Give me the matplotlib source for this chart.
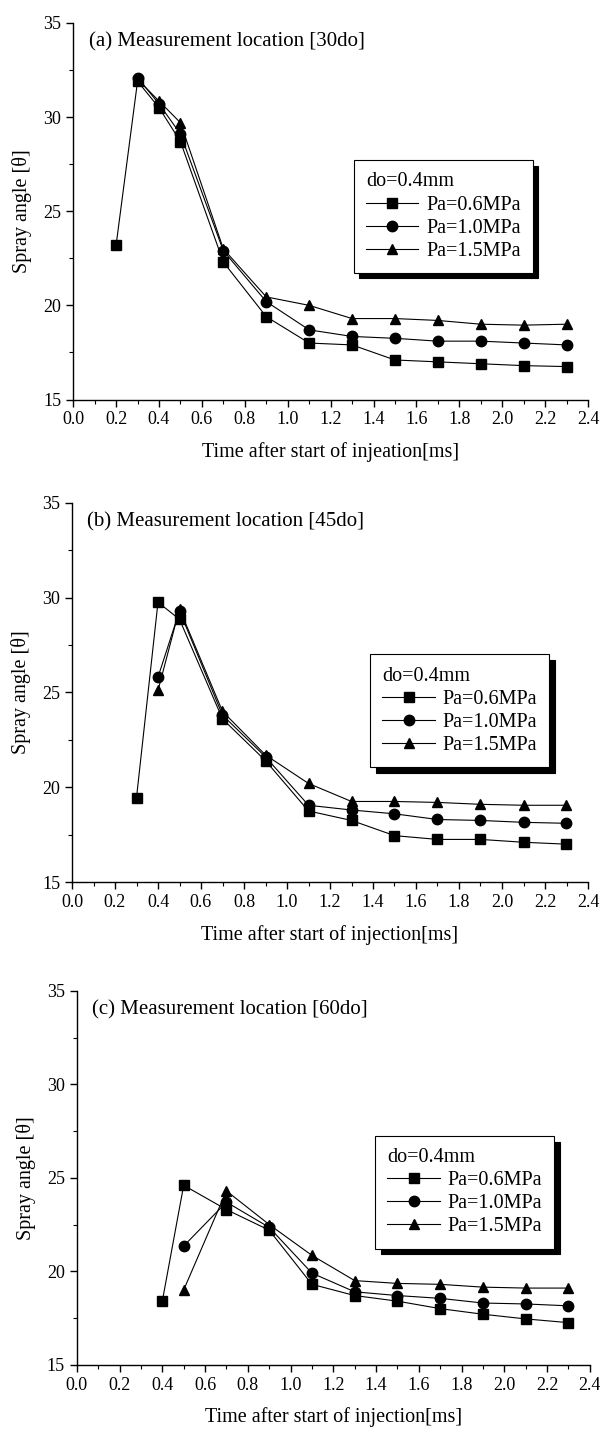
import numpy as np
import matplotlib
matplotlib.use('Agg')
import matplotlib.pyplot as plt
from matplotlib.ticker import MultipleLocator

plt.rcParams.update({
    'font.family': 'Liberation Serif',
    'font.size': 13,
    'axes.linewidth': 1.0,
    'lines.linewidth': 0.8,
    'xtick.direction': 'out',
    'ytick.direction': 'out',
})

# --- data ---
t_a06 = [0.2, 0.3, 0.4, 0.5, 0.7, 0.9, 1.1, 1.3, 1.5, 1.7, 1.9, 2.1, 2.3]
a_06 = [23.2, 31.9, 30.5, 28.7, 22.3, 19.4, 18.0, 17.9, 17.1, 17.0, 16.9, 16.8, 16.75]
t_a = [0.3, 0.4, 0.5, 0.7, 0.9, 1.1, 1.3, 1.5, 1.7, 1.9, 2.1, 2.3]
a_10 = [32.1, 30.7, 29.1, 22.9, 20.2, 18.7, 18.35, 18.25, 18.1, 18.1, 18.0, 17.9]
a_15 = [32.0, 30.85, 29.7, 23.0, 20.45, 20.0, 19.3, 19.3, 19.2, 19.0, 18.95, 19.0]

t_b06 = [0.3, 0.4, 0.5, 0.7, 0.9, 1.1, 1.3, 1.5, 1.7, 1.9, 2.1, 2.3]
b_06 = [19.45, 29.75, 28.85, 23.6, 21.4, 18.75, 18.25, 17.45, 17.25, 17.25, 17.1, 17.0]
t_b = [0.4, 0.5, 0.7, 0.9, 1.1, 1.3, 1.5, 1.7, 1.9, 2.1, 2.3]
b_10 = [25.8, 29.3, 23.8, 21.6, 19.05, 18.8, 18.6, 18.3, 18.25, 18.15, 18.1]
b_15 = [25.1, 29.4, 24.0, 21.7, 20.2, 19.25, 19.25, 19.2, 19.1, 19.05, 19.05]

t_c06 = [0.4, 0.5, 0.7, 0.9, 1.1, 1.3, 1.5, 1.7, 1.9, 2.1, 2.3]
c_06 = [18.4, 24.6, 23.3, 22.2, 19.3, 18.7, 18.4, 18.0, 17.7, 17.45, 17.25]
t_c = [0.5, 0.7, 0.9, 1.1, 1.3, 1.5, 1.7, 1.9, 2.1, 2.3]
c_10 = [21.35, 23.7, 22.35, 19.9, 18.9, 18.7, 18.55, 18.3, 18.25, 18.15]
c_15 = [19.0, 24.3, 22.5, 20.85, 19.5, 19.35, 19.3, 19.15, 19.1, 19.1]

labels = ['Pa=0.6MPa', 'Pa=1.0MPa', 'Pa=1.5MPa']
titles = ['(a) Measurement location [30do]',
          '(b) Measurement location [45do]',
          '(c) Measurement location [60do]']
xlabels = ['Time after start of injeation[ms]',
           'Time after start of injection[ms]',
           'Time after start of injection[ms]']

panels = [
    ((t_a06, a_06), (t_a, a_10), (t_a, a_15)),
    ((t_b06, b_06), (t_b, b_10), (t_b, b_15)),
    ((t_c06, c_06), (t_c, c_10), (t_c, c_15)),
]

# axes boxes [left, bottom, width, height] in figure fraction
boxes = [
    [0.122, 0.721, 0.858, 0.263],
    [0.120, 0.384, 0.860, 0.265],
    [0.128, 0.047, 0.855, 0.261],
]
legend_anchor = [(0.545, 0.635), (0.578, 0.600), (0.582, 0.612)]

markers = ['s', 'o', '^']

fig = plt.figure(figsize=(6, 14.32), dpi=100)
for i, series in enumerate(panels):
    ax = fig.add_axes(boxes[i])
    handles = []
    for (t, v), m, lab in zip(series, markers, labels):
        h, = ax.plot(t, v, color='k', marker=m, markersize=7.5, lw=0.8, label=lab)
        handles.append(h)
    ax.set_xlim(0, 2.4)
    ax.set_ylim(15, 35)
    ax.xaxis.set_minor_locator(MultipleLocator(0.1))
    ax.yaxis.set_major_locator(MultipleLocator(5))
    ax.yaxis.set_minor_locator(MultipleLocator(2.5))
    ax.set_xticks(np.arange(0, 2.41, 0.2))
    ax.set_xticklabels(['%.1f' % v for v in np.arange(0, 2.41, 0.2)])
    ax.tick_params(which='major', length=5, width=1)
    ax.tick_params(which='minor', length=3, width=0.8)
    ax.spines['top'].set_visible(False)
    ax.spines['right'].set_visible(False)
    ax.set_xlabel(xlabels[i], fontsize=14.5, labelpad=10)
    ax.set_ylabel('Spray angle [θ]', fontsize=14.5, labelpad=8)
    ax.text(0.03, 0.975, titles[i], transform=ax.transAxes, fontsize=15,
            va='top', ha='left')
    leg = ax.legend(handles=handles, title='do=0.4mm', loc='upper left',
                    bbox_to_anchor=legend_anchor[i], fontsize=14.5,
                    title_fontsize=14.5, alignment='left', fancybox=False,
                    edgecolor='k', framealpha=1, handlelength=2.6,
                    handletextpad=0.4, labelspacing=0.2, borderpad=0.6,
                    borderaxespad=0,
                    shadow={'ox': 4, 'oy': -4, 'color': 'black', 'alpha': 1})
    leg.get_frame().set_linewidth(0.8)

fig.savefig('out.png', dpi=100)
